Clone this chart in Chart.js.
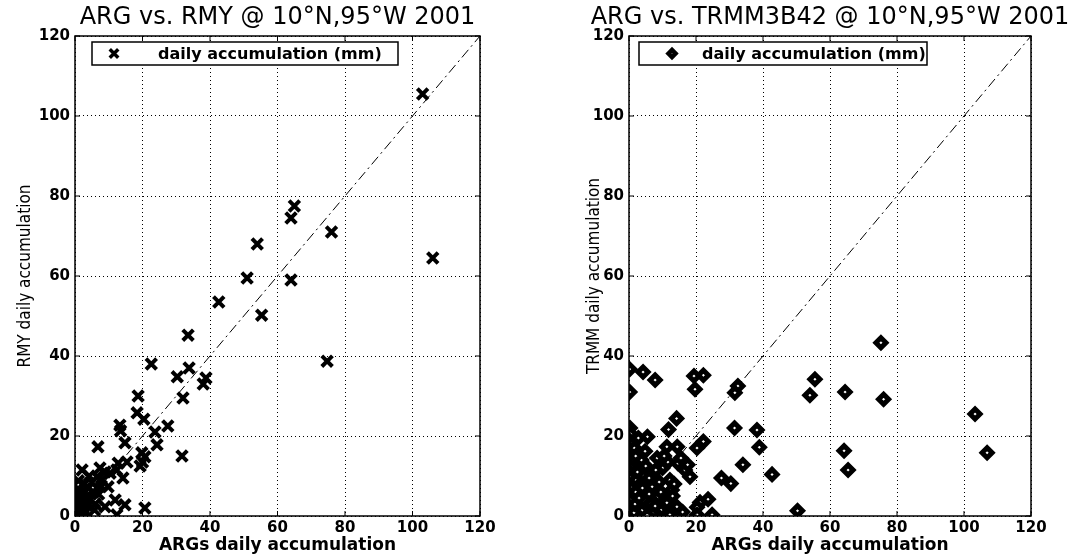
<!DOCTYPE html>
<html>
<head>
<meta charset="utf-8">
<script src="https://cdn.jsdelivr.net/npm/chart.js@4.4.0/dist/chart.umd.min.js"></script>
<style>
    body { margin: 0; background: #fff; }
    .panel { position: absolute; top: 0; }
</style>
</head>
<body>
<div class="panel" style="left:0"><canvas id="chart-rmy" width="536" height="556"></canvas></div>
<div class="panel" style="left:536px"><canvas id="chart-trmm" width="537" height="556"></canvas></div>
<script>
// --- DATA ---
const tickValues = [0, 20, 40, 60, 80, 100, 120];
const oneToOne = [0, 120];

// ARG (gauge) vs RMY daily accumulation, mm
const rmyArg = [103, 106, 65, 64, 76, 54, 64, 51, 55.3, 42.6, 33.5, 74.7, 38.8, 38, 33.8, 30.3, 32, 31.7, 27.5, 23.7,
    24.3, 22.6, 18.7, 18.4, 20.4, 13.3, 13.5, 14.8, 6.8, 19.8, 20.7, 20, 19.3, 15.4, 12.8, 12.4, 7.4, 8.9, 6.5, 14.2,
    2.1, 9.8, 11.9, 14.8, 8.9, 12.4, 20.7, 10.4,
    0.5, 1, 0.3, 1.5, 0.8, 2, 0.2, 1.2, 2.5, 3, 0.5, 1.8, 3.5, 4, 2.8, 5, 4.5, 5.5, 6, 3.2, 7, 7.8, 1, 4.2, 5.8, 0.4,
    1.6, 2.3, 0.9, 3.8, 6.5, 8, 0.2, 1.3, 2.7];
const rmyVal = [105.5, 64.5, 77.5, 74.5, 71, 68, 59, 59.5, 50.2, 53.5, 45.2, 38.7, 34.5, 33, 37, 34.8, 29.5, 15, 22.5, 21,
    17.8, 38, 30, 25.8, 24.2, 22.7, 21.3, 18.3, 17.3, 15.8, 14.8, 13.5, 12.5, 13.5, 13.2, 11.5, 12, 11, 9.8, 9.5,
    11.5, 7.3, 4, 2.8, 2.3, 0.3, 2, 10.7,
    0.5, 1.5, 2.5, 3, 4, 0.8, 0.2, 0.1, 2, 3.5, 5.5, 6, 5, 7, 8, 8.5, 4, 6, 3, 1, 5.5, 7.5, 8.8, 10, 1.5, 3.2,
    2.2, 4.6, 6.8, 2.5, 7, 9, 1.2, 0.5, 5.8];

// ARG (gauge) vs TRMM 3B42 daily accumulation, mm
const trmmArg = [75.2, 55.5, 54, 64.5, 76, 103.3, 64.2, 106.9, 65.4, 50.3,
    22.2, 19.4, 19.7, 32.5, 31.6, 31.5, 38.2, 38.9, 22.2, 34, 42.7, 27.6, 30.4, 23.6, 21.2, 20.3, 24.8, 20.3, 14.3, 12.2,
    0.2, 4.2, 7.8, 0.2, 14.2, 11.8, 5.5, 11.3, 14.4, 20.3, 4.8, 8.4, 11.6, 14.6, 16.7, 18.2, 3.3, 12.2, 12.8, 6.9, 8.7, 11.3,
    0.3, 0.5, 0, 0.8, 0.2, 0.6, 0, 1, 0.3, 0.5, 0, 0.8, 0.2, 0.6, 0, 1, 0.3, 1.5, 1.8, 2, 2.2, 1.5, 2.5, 1.6, 3, 3.5,
    4, 4.5, 5.5, 6, 7, 9, 10, 9.5, 2.8, 7.5, 3.7,
    5, 6.5, 8, 9.5, 10.5, 13, 15.5, 17.5, 4, 6, 13.5, 16, 2, 7.8];
const trmmVal = [43.3, 34.2, 30.2, 31, 29.2, 25.5, 16.3, 15.8, 11.5, 1.3,
    35.2, 35, 31.7, 32.5, 30.8, 22, 21.5, 17.2, 18.6, 12.8, 10.4, 9.5, 8.1, 4.2, 3.4, 2.2, 0.3, 0.3, 2.3, 0.3,
    36.7, 36, 34, 31, 24.4, 21.6, 19.8, 17.3, 17.3, 17, 16.2, 14.5, 13.5, 13.2, 11.5, 9.8, 12, 9, 6.5, 7.3, 4.8, 3.3,
    22, 20.5, 19, 18, 16.5, 15, 13.5, 12.5, 11, 9.5, 8, 7, 5.5, 4, 2.5, 1.5, 0.3, 0.8, 3, 6, 9, 14, 11, 17, 4.5, 8,
    1.5, 10, 2.5, 5.5, 10.5, 8.5, 12, 1.5, 19.5, 1, 14,
    12.5, 3, 11.5, 6, 15, 5, 14.5, 12.8, 7, 9.5, 8, 1, 15, 2.5];

const toPoints = (xs, ys) => xs.map((x, i) => ({ x: x, y: ys[i] }));

// --- PLUGIN: MATLAB style box, inward ticks, boxed legend, title ---
const matlabFrame = {
    id: 'matlabFrame',
    afterDraw(chart, args, o) {
        const { ctx, chartArea: a, scales } = chart;
        ctx.save();
        ctx.strokeStyle = '#000';
        ctx.lineWidth = 1.5;
        ctx.strokeRect(a.left, a.top, a.right - a.left, a.bottom - a.top);
        ctx.lineWidth = 1;
        tickValues.forEach(v => {
            const x = scales.x.getPixelForValue(v);
            const y = scales.y.getPixelForValue(v);
            ctx.beginPath();
            ctx.moveTo(x, a.bottom); ctx.lineTo(x, a.bottom - 5);
            ctx.moveTo(x, a.top); ctx.lineTo(x, a.top + 5);
            ctx.moveTo(a.left, y); ctx.lineTo(a.left + 5, y);
            ctx.moveTo(a.right, y); ctx.lineTo(a.right - 5, y);
            ctx.stroke();
        });

        // legend box
        const lx = a.left + o.boxLeft, ly = a.top + 6, lw = o.boxWidth, lh = 23;
        ctx.fillStyle = '#fff';
        ctx.fillRect(lx, ly, lw, lh);
        ctx.lineWidth = 1.5;
        ctx.strokeRect(lx, ly, lw, lh);
        const ds = chart.data.datasets[0];
        ctx.lineWidth = ds.borderWidth - 0.5;
        ctx.fillStyle = ds.backgroundColor;
        Chart.helpers.drawPoint(ctx, { pointStyle: ds.pointStyle, radius: ds.pointRadius - 1.5, borderWidth: ds.borderWidth, rotation: 0 }, lx + o.markerX, ly + lh / 2);
        ctx.fillStyle = '#000';
        ctx.font = 'bold 16px "DejaVu Sans", sans-serif';
        ctx.textBaseline = 'middle';
        ctx.fillText(ds.label, lx + o.textX, ly + lh / 2 + 1);

        // title, allowed to run wider than the plot (no maxWidth squeeze)
        ctx.font = '24px "DejaVu Sans", sans-serif';
        ctx.textAlign = 'center';
        ctx.fillText(o.title, (a.left + a.right) / 2, 18);
        ctx.restore();
    }
};

function renderScatter(canvasId, cfg) {
    const ctx = document.getElementById(canvasId);
    if (!ctx) return;

    const tickFont = { family: '"DejaVu Sans", sans-serif', size: 15, weight: 'bold' };

    return new Chart(ctx, {
        type: 'scatter',
        data: {
            datasets: [{
                label: 'daily accumulation (mm)',
                data: cfg.points,
                pointStyle: cfg.marker,
                pointRadius: cfg.radius,
                pointHoverRadius: cfg.radius,
                borderWidth: cfg.markerWidth,
                borderColor: '#000',
                backgroundColor: '#fff'
            }, {
                label: '1:1',
                data: oneToOne.map(v => ({ x: v, y: v })),
                showLine: true,
                pointRadius: 0,
                borderColor: '#000',
                borderWidth: 1,
                borderDash: [10, 4, 2, 4]
            }]
        },
        options: {
            responsive: false,
            animation: false,
            layout: { padding: cfg.padding },
            plugins: {
                legend: { display: false },
                tooltip: { enabled: false },
                title: { display: false },
                matlabFrame: Object.assign({ title: cfg.title }, cfg.legend)
            },
            scales: {
                x: {
                    type: 'linear', min: 0, max: 120,
                    afterBuildTicks: s => { s.ticks = tickValues.map(v => ({ value: v })); },
                    afterFit: s => { s.height = 40; },
                    grid: { color: '#000', lineWidth: 1, drawTicks: false },
                    border: { display: false, dash: [1, 3] },
                    ticks: { color: '#000', font: tickFont, padding: 3, maxRotation: 0 },
                    title: {
                        display: true, text: 'ARGs daily accumulation', color: '#000',
                        font: { family: '"DejaVu Sans", sans-serif', size: 17, weight: 'bold' },
                        padding: { top: 0, bottom: 0 }
                    }
                },
                y: {
                    type: 'linear', min: 0, max: 120,
                    afterBuildTicks: s => { s.ticks = tickValues.map(v => ({ value: v })); },
                    afterFit: s => { s.width = cfg.yWidth; },
                    grid: { color: '#000', lineWidth: 1, drawTicks: false },
                    border: { display: false, dash: [1, 3] },
                    ticks: { color: '#000', font: tickFont, padding: 5 },
                    title: {
                        display: true, text: cfg.yTitle, color: '#000',
                        // font-stretch keyword rides along in the weight slot of the font string
                        font: { family: '"DejaVu Sans", sans-serif', size: 17, weight: 'condensed' },
                        padding: { top: cfg.yTitlePad, bottom: 0 }
                    }
                }
            }
        },
        plugins: [matlabFrame]
    });
}

window.rmyChart = renderScatter('chart-rmy', {
    title: 'ARG vs. RMY @ 10\u00B0N,95\u00B0W 2001',
    yTitle: 'RMY daily accumulation',
    points: toPoints(rmyArg, rmyVal),
    marker: 'crossRot', radius: 7.5, markerWidth: 4,
    padding: { left: 0, right: 56, top: 36, bottom: 0 },
    yWidth: 75, yTitlePad: 15,
    legend: { boxLeft: 17, boxWidth: 306, markerX: 22, textX: 66 }
});

window.trmmChart = renderScatter('chart-trmm', {
    title: 'ARG vs. TRMM3B42 @ 10\u00B0N,95\u00B0W 2001',
    yTitle: 'TRMM daily accumulation',
    points: toPoints(trmmArg, trmmVal),
    marker: 'rectRot', radius: 5, markerWidth: 5,
    padding: { left: 44, right: 42, top: 36, bottom: 0 },
    yWidth: 49, yTitlePad: 4,
    legend: { boxLeft: 10, boxWidth: 288, markerX: 33, textX: 63 }
});
</script>
</body>
</html>
